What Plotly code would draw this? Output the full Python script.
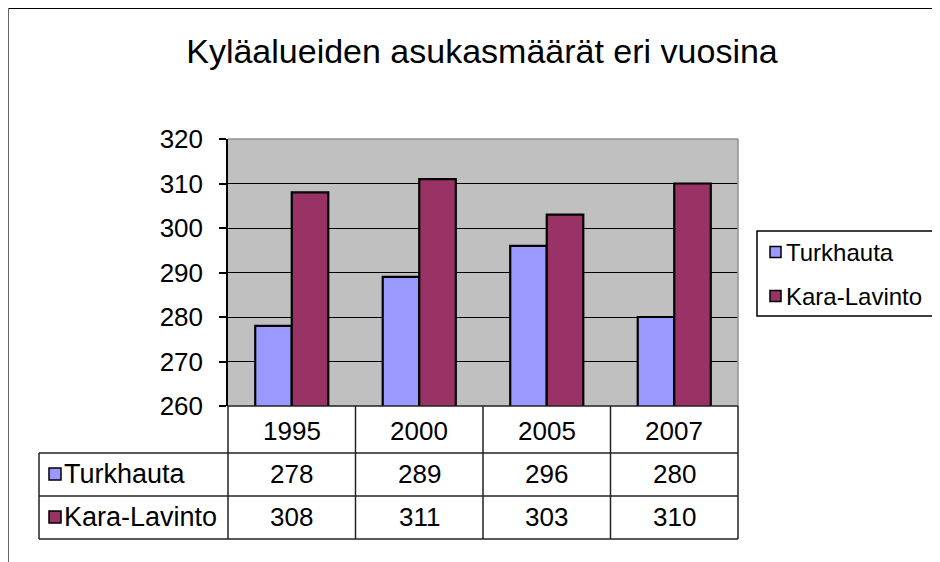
import plotly.graph_objects as go

# ---- data ----
years = ["1995", "2000", "2005", "2007"]
turkhauta = [278, 289, 296, 280]
kara_lavinto = [308, 311, 303, 310]
series_names = ["Turkhauta", "Kara-Lavinto"]
series_values = [turkhauta, kara_lavinto]
series_colors = ["#9999FF", "#993366"]
title_text = "Kyläalueiden asukasmäärät eri vuosina"
y_ticks = [260, 270, 280, 290, 300, 310, 320]

# ---- layout geometry (screen pixels; page body has an 8px margin) ----
OFF = 8
W, H = 940 - OFF, 562 - OFF
L, R, T, B = 228, 738, 139, 406  # plot area box on screen


def px(x):
    return (x - L) / (R - L)


def py(y):
    return (B - y) / (B - T)


FONT = "Liberation Sans, Arial, sans-serif"

fig = go.Figure()
for name, vals, col in zip(series_names, series_values, series_colors):
    fig.add_trace(go.Bar(
        x=years, y=vals, name=name,
        marker=dict(color=col, line=dict(color="black", width=2.2)),
        showlegend=False,
    ))

shapes = []
annotations = []


def hline(y, x0, x1, color="#222", width=1.5):
    shapes.append(dict(type="line", xref="paper", yref="paper",
                       x0=px(x0), x1=px(x1), y0=py(y), y1=py(y),
                       line=dict(color=color, width=width), layer="above"))


def vline(x, y0, y1, color="#222", width=1.5):
    shapes.append(dict(type="line", xref="paper", yref="paper",
                       x0=px(x), x1=px(x), y0=py(y0), y1=py(y1),
                       line=dict(color=color, width=width), layer="above"))


# outer chart border (cropped on right & bottom)
hline(8, 8, 960, color="#000", width=2)
vline(8, 8, 590, color="#666", width=2)

# plot area border (top/right gray)
hline(T, L, R, color="#909090", width=1.5)
vline(R, T, B, color="#909090", width=1.5)

# data table grid
col_edges = [L + i * (R - L) / len(years) for i in range(len(years) + 1)]
row_edges = [406, 453, 496, 539]
hline(row_edges[0], L, R)
for yy in row_edges[1:]:
    hline(yy, 39, R)
vline(39, row_edges[1], row_edges[3])
for xx in col_edges:
    vline(xx, row_edges[0], row_edges[3])

# header (years) - placed at category index on the x axis
for i, yr in enumerate(years):
    annotations.append(dict(x=i, xref="x", y=py(431), yref="paper",
                            text=yr, showarrow=False, xanchor="center", yanchor="middle",
                            font=dict(size=26, color="black", family=FONT)))

row_centers = [474, 517]
for name, vals, col, yc in zip(series_names, series_values, series_colors, row_centers):
    shapes.append(dict(type="rect", xref="paper", yref="paper",
                       x0=px(49), x1=px(61), y0=py(yc - 6), y1=py(yc + 6),
                       fillcolor=col, line=dict(color="black", width=1.5), layer="above"))
    annotations.append(dict(x=px(62), xref="paper", y=py(yc), yref="paper",
                            text=name, showarrow=False, xanchor="left", yanchor="middle",
                            font=dict(size=27, color="black", family=FONT)))
    for i, v in enumerate(vals):
        annotations.append(dict(x=i, xref="x", y=py(yc), yref="paper",
                                text=str(v), showarrow=False, xanchor="center", yanchor="middle",
                                font=dict(size=26, color="black", family=FONT)))

# legend box (manual)
shapes.append(dict(type="rect", xref="paper", yref="paper",
                   x0=px(757), x1=px(938), y0=py(316), y1=py(231),
                   fillcolor="white", line=dict(color="black", width=1.5), layer="above"))
leg_centers = [252, 296]
for name, col, yc in zip(series_names, series_colors, leg_centers):
    shapes.append(dict(type="rect", xref="paper", yref="paper",
                       x0=px(770), x1=px(781), y0=py(yc - 5.5), y1=py(yc + 5.5),
                       fillcolor=col, line=dict(color="black", width=1.5), layer="above"))
    annotations.append(dict(x=px(784), xref="paper", y=py(yc), yref="paper",
                            text=name, showarrow=False, xanchor="left", yanchor="middle",
                            font=dict(size=24, color="black", family=FONT)))

fig.update_layout(
    width=W, height=H,
    margin=dict(l=L - OFF, r=W - (R - OFF), t=T - OFF, b=H - (B - OFF), pad=0),
    paper_bgcolor="white",
    plot_bgcolor="#C0C0C0",
    barmode="group",
    bargap=0.427,
    bargroupgap=0,
    title=dict(text=title_text, x=px(482), xref="paper", xanchor="center",
               y=1 - (51 - OFF) / H, yref="container", yanchor="middle",
               font=dict(size=34, color="black", family=FONT)),
    font=dict(family=FONT, color="black"),
    shapes=shapes,
    annotations=annotations,
    showlegend=False,
)
fig.update_xaxes(type="category", range=[-0.5, len(years) - 0.5],
                 showticklabels=False, showgrid=False, zeroline=False,
                 showline=False, ticks="")
fig.update_yaxes(range=[260, 320], tickvals=y_ticks,
                 showgrid=True, gridcolor="black", gridwidth=1,
                 showline=True, linecolor="black", linewidth=1.5,
                 ticks="outside", ticklen=7, tickcolor="black", tickwidth=1.5,
                 ticklabelstandoff=11, zeroline=False,
                 tickfont=dict(size=26, color="black", family=FONT))

fig.write_html("out.html")
